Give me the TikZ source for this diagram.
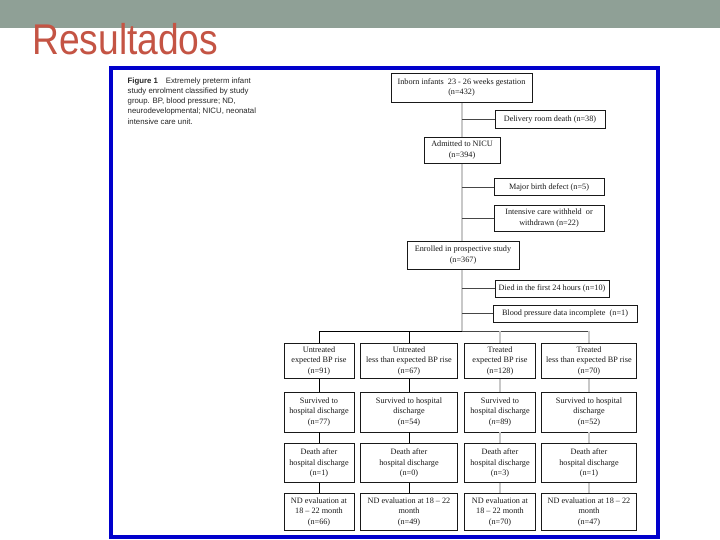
\documentclass[tikz,border=0pt]{standalone}
\usepackage{fontspec}
\setmainfont{Liberation Serif}
\setsansfont{Liberation Sans}
\definecolor{banner}{RGB}{143,160,150}
\definecolor{titlec}{RGB}{196,84,68}
\definecolor{frameblue}{RGB}{0,0,204}
\definecolor{lgray}{RGB}{200,200,200}
\definecolor{dgray}{RGB}{70,70,70}
\begin{document}
\begin{tikzpicture}[x=1pt,y=-1pt,
  box/.style={draw=black!90, line width=0.8pt, fill=white, inner sep=0pt, align=center,
    text=black!90, font=\fontsize{8.2}{10.5}\selectfont},
  mainline/.style={lgray, line width=1.6pt},
  sideline/.style={dgray, line width=0.9pt},
  blackline/.style={black, line width=0.9pt},
  grayline/.style={lgray, line width=1.4pt}]
\useasboundingbox (0,0) rectangle (720,540);
% banner and title
\fill[banner] (0,0) rectangle (720,28);
\node[anchor=base west, text=titlec, inner sep=0pt] (title) at (32,55)
  {\scalebox{0.865}[1]{\fontsize{43}{43}\selectfont\sffamily Resultados}};
% frame
\draw[frameblue, line width=4pt] (111,68) rectangle (658,537);
% caption
\node[anchor=north west, inner sep=0pt, align=left, text=black!85,
  font=\sffamily\fontsize{7.8}{10.2}\selectfont] (caption) at (127.5,77.5)
  {\textbf{Figure 1}\quad Extremely preterm infant\\
   study enrolment classified by study\\
   group. BP, blood pressure; ND,\\
   neurodevelopmental; NICU, neonatal\\
   intensive care unit.};
% coordinates of bar
\coordinate (bar1) at (319,331);
\coordinate (bar2) at (409,331);
\coordinate (barm) at (462,331);
\coordinate (bar3) at (500,331);
\coordinate (bar4) at (589,331);
% main line
\draw[mainline] (462,101) -- (barm);
% top flow boxes
\node[box, minimum width=141pt, minimum height=29pt] (inborn) at (461.5,87.5)
  {Inborn infants\ \ 23 - 26 weeks gestation\\(n=432)};
\node[box, minimum width=110pt, minimum height=18pt] (delivery) at (550,119.5)
  {Delivery room death (n=38)};
\node[box, minimum width=76pt, minimum height=26pt] (nicu) at (462,150)
  {Admitted to NICU\\(n=394)};
\node[box, minimum width=110pt, minimum height=17pt] (defect) at (549,187)
  {Major birth defect (n=5)};
\node[box, minimum width=110pt, minimum height=26pt] (withheld) at (549,218)
  {Intensive care withheld\ \ or\\withdrawn (n=22)};
\node[box, minimum width=112pt, minimum height=28pt] (enrolled) at (463,255)
  {Enrolled in prospective study\\(n=367)};
\node[box, minimum width=114pt, minimum height=17pt] (died) at (552,288.5)
  {Died in the first 24 hours (n=10)};
\node[box, minimum width=144pt, minimum height=17pt] (bpinc) at (565,313.5)
  {Blood pressure data incomplete\ \ (n=1)};
% side connectors
\draw[sideline] (delivery.west -| barm) -- (delivery.west);
\draw[sideline] (defect.west -| barm) -- (defect.west);
\draw[sideline] (withheld.west -| barm) -- (withheld.west);
\draw[sideline] (died.west -| barm) -- (died.west);
\draw[sideline] (bpinc.west -| barm) -- (bpinc.west);
% grid boxes
\node[box, minimum width=70pt, minimum height=35pt] (a1) at (319,361)
  {Untreated\\expected BP rise\\(n=91)};
\node[box, minimum width=97pt, minimum height=35pt] (b1) at (409,361)
  {Untreated\\less than expected BP rise\\(n=67)};
\node[box, minimum width=71pt, minimum height=35pt] (c1) at (500,361)
  {Treated\\expected BP rise\\(n=128)};
\node[box, minimum width=95pt, minimum height=35pt] (d1) at (589,361)
  {Treated\\less than expected BP rise\\(n=70)};
\node[box, minimum width=70pt, minimum height=40pt] (a2) at (319,412)
  {Survived to\\hospital discharge\\(n=77)};
\node[box, minimum width=97pt, minimum height=40pt] (b2) at (409,412)
  {Survived to hospital\\discharge\\(n=54)};
\node[box, minimum width=71pt, minimum height=40pt] (c2) at (500,412)
  {Survived to\\hospital discharge\\(\textit{n}=89)};
\node[box, minimum width=95pt, minimum height=40pt] (d2) at (589,412)
  {Survived to hospital\\discharge\\(n=52)};
\node[box, minimum width=70pt, minimum height=39pt] (a3) at (319,463)
  {Death after\\hospital discharge\\(n=1)};
\node[box, minimum width=97pt, minimum height=39pt] (b3) at (409,463)
  {Death after\\hospital discharge\\(n=0)};
\node[box, minimum width=71pt, minimum height=39pt] (c3) at (500,463)
  {Death after\\hospital discharge\\(n=3)};
\node[box, minimum width=95pt, minimum height=39pt] (d3) at (589,463)
  {Death after\\hospital discharge\\(n=1)};
\node[box, minimum width=70pt, minimum height=37pt] (a4) at (319,512)
  {ND evaluation at\\18 -- 22 month\\(n=66)};
\node[box, minimum width=97pt, minimum height=37pt] (b4) at (409,512)
  {ND evaluation at 18 -- 22\\month\\(n=49)};
\node[box, minimum width=71pt, minimum height=37pt] (c4) at (500,512)
  {ND evaluation at\\18 -- 22 month\\(n=70)};
\node[box, minimum width=95pt, minimum height=37pt] (d4) at (589,512)
  {ND evaluation at 18 -- 22\\month\\(n=47)};
% bar and drops
\draw[blackline] (bar1) -- (barm);
\draw[sideline] (barm) -- (bar4);
\draw[blackline] (bar1) -- (a1.north);
\draw[blackline] (bar2) -- (b1.north);
\draw[grayline] (bar3) -- (c1.north);
\draw[grayline] (bar4) -- (d1.north);
\draw[blackline] (a1.south) -- (a2.north);
\draw[blackline] (b1.south) -- (b2.north);
\draw[grayline] (c1.south) -- (c2.north);
\draw[grayline] (d1.south) -- (d2.north);
\draw[blackline] (a2.south) -- (a3.north);
\draw[blackline] (b2.south) -- (b3.north);
\draw[grayline] (c2.south) -- (c3.north);
\draw[grayline] (d2.south) -- (d3.north);
\draw[blackline] (a3.south) -- (a4.north);
\draw[blackline] (b3.south) -- (b4.north);
\draw[grayline] (c3.south) -- (c4.north);
\draw[grayline] (d3.south) -- (d4.north);
\end{tikzpicture}
\end{document}
